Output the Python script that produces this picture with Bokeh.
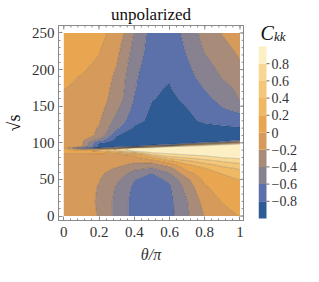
import numpy as np
from bokeh.plotting import figure
from bokeh.layouts import row
from bokeh.models import FixedTicker, Range1d
from bokeh.core.properties import value
from bokeh.embed import file_html
from bokeh.resources import INLINE

# ---- data ----
theta = [0.0, 0.1, 0.2, 0.3, 0.4, 0.5, 0.6, 0.7, 0.8, 0.9, 1.0]
sqrt_s = [0, 20, 40, 50, 58, 65, 70, 75, 80, 84, 87, 89, 91, 93, 95, 97, 99, 101, 104,
          110, 120, 130, 145, 160, 175, 190, 210, 225, 250]
ckk = [
    [-0.08, -0.13, -0.21, -0.46, -0.67, -0.74, -0.66, -0.43, -0.19, -0.06, 0.005],
    [-0.08, -0.13, -0.22, -0.46, -0.67, -0.74, -0.66, -0.41, -0.12, 0.01, 0.08],
    [-0.09, -0.13, -0.21, -0.42, -0.64, -0.71, -0.63, -0.32, -0.02, 0.08, 0.16],
    [-0.09, -0.13, -0.19, -0.36, -0.59, -0.67, -0.56, -0.24, 0.05, 0.13, 0.21],
    [-0.10, -0.13, -0.16, -0.30, -0.47, -0.61, -0.42, -0.08, 0.12, 0.21, 0.32],
    [-0.10, -0.12, -0.13, -0.22, -0.36, -0.42, -0.28, 0.08, 0.19, 0.33, 0.43],
    [-0.10, -0.12, -0.11, -0.14, -0.26, -0.30, -0.10, 0.18, 0.32, 0.47, 0.55],
    [-0.10, -0.11, -0.08, -0.09, -0.15, -0.10, 0.15, 0.36, 0.52, 0.62, 0.70],
    [-0.09, -0.09, -0.05, -0.05, -0.06, 0.21, 0.53, 0.63, 0.72, 0.81, 0.85],
    [-0.04, -0.05, -0.02, -0.02, 0.05, 0.61, 0.74, 0.82, 0.86, 0.88, 0.90],
    [0.06, 0.05, 0.05, 0.30, 0.55, 0.83, 0.90, 0.90, 0.91, 0.92, 0.93],
    [0.10, 0.12, 0.25, 0.60, 0.86, 0.92, 0.94, 0.93, 0.93, 0.94, 0.94],
    [0.06, -0.21, 0.10, 0.70, 0.90, 0.95, 0.96, 0.95, 0.95, 0.95, 0.95],
    [-0.02, -0.78, -0.82, -0.30, 0.85, 0.90, 0.94, 0.95, 0.96, 0.96, 0.96],
    [-0.07, -0.19, -0.87, -0.87, -0.78, 0.10, 0.75, 0.87, 0.93, 0.96, 0.96],
    [-0.09, -0.16, -0.86, -0.88, -0.91, -0.82, -0.70, 0.30, 0.70, 0.86, 0.93],
    [-0.10, -0.15, -0.82, -0.89, -0.92, -0.90, -0.88, -0.81, -0.30, 0.30, 0.70],
    [-0.11, -0.15, -0.72, -0.89, -0.92, -0.92, -0.91, -0.88, -0.84, -0.78, -0.22],
    [-0.11, -0.15, -0.47, -0.88, -0.92, -0.92, -0.92, -0.91, -0.89, -0.86, -0.84],
    [-0.12, -0.15, -0.22, -0.79, -0.90, -0.92, -0.92, -0.92, -0.91, -0.90, -0.88],
    [-0.11, -0.14, -0.21, -0.56, -0.84, -0.90, -0.91, -0.89, -0.86, -0.84, -0.82],
    [-0.10, -0.13, -0.18, -0.47, -0.72, -0.86, -0.89, -0.84, -0.77, -0.73, -0.70],
    [-0.09, -0.12, -0.13, -0.38, -0.66, -0.83, -0.88, -0.81, -0.71, -0.62, -0.56],
    [-0.07, -0.10, -0.12, -0.28, -0.61, -0.79, -0.84, -0.76, -0.65, -0.54, -0.39],
    [0.01, -0.04, -0.10, -0.26, -0.58, -0.78, -0.81, -0.71, -0.59, -0.46, -0.36],
    [0.02, -0.005, -0.07, -0.24, -0.56, -0.76, -0.79, -0.67, -0.52, -0.39, -0.28],
    [0.07, 0.04, -0.02, -0.19, -0.51, -0.72, -0.78, -0.62, -0.45, -0.32, -0.21],
    [0.10, 0.06, 0.01, -0.15, -0.47, -0.70, -0.76, -0.58, -0.39, -0.27, -0.17],
    [0.15, 0.11, 0.05, -0.06, -0.41, -0.68, -0.74, -0.52, -0.33, -0.19, -0.10],
]
levels = [-1.0, -0.8, -0.6, -0.4, -0.2, 0.0, 0.2, 0.4, 0.6, 0.8, 1.0]
palette = ["#2e5b94", "#5c70a9", "#878190", "#a88b79", "#d69b5b",
           "#e9a650", "#efb865", "#f3c679", "#f8d792", "#fcefc3"]
x_ticks = [0, 0.2, 0.4, 0.6, 0.8, 1]
x_labels = {0: "0", 0.2: "0.2", 0.4: "0.4", 0.6: "0.6", 0.8: "0.8", 1: "1"}
y_ticks = [0, 50, 100, 150, 200, 250]
cbar_ticks = [-0.8, -0.6, -0.4, -0.2, 0, 0.2, 0.4, 0.6, 0.8]
cbar_tick_labels = ["\u22120.8", "\u22120.6", "\u22120.4", "\u22120.2", "0",
                    "0.2", "0.4", "0.6", "0.8"]
cbar_title = "C"
cbar_title_sub = "kk"

FONT = "Liberation Serif"
TXT = "#333333"
FRAME = "#8a8a8a"

X0, X1 = -0.03, 1.02
Y0, Y1 = -6.1, 260.2
W, H = 248, 271
MB_L, MB_R, MB_T, MB_B = 52, 5, 25, 51
frame_w = W - MB_L - MB_R
frame_h = H - MB_T - MB_B
px_x = frame_w / (X1 - X0)   # pixels per data unit
px_y = frame_h / (Y1 - Y0)

z = np.array(ckk)

p = figure(width=W, height=H, x_range=Range1d(X0, X1), y_range=Range1d(Y0, Y1),
           output_backend="svg", toolbar_location=None,
           min_border_left=MB_L, min_border_right=MB_R, min_border_top=MB_T, min_border_bottom=MB_B,
           title="unpolarized")
p.contour(x=theta, y=sqrt_s, z=z, levels=levels, fill_color=palette,
          line_color="#000000", line_alpha=0.28, line_width=0.6)

p.grid.visible = False
p.outline_line_color = FRAME
p.outline_line_width = 1
p.background_fill_color = "white"
p.border_fill_color = "white"

p.title.text_font = FONT
p.title.text_font_size = "17px"
p.title.text_font_style = "normal"
p.title.text_color = "#111111"
p.title.align = "center"
p.title.standoff = 3

x_minor = [round(v, 2) for v in np.arange(0, 1.001, 0.04)]
y_minor = list(range(0, 251, 10))

for ax, ticks, minor in ((p.xaxis[0], x_ticks, x_minor), (p.yaxis[0], y_ticks, y_minor)):
    ax.ticker = FixedTicker(ticks=ticks, minor_ticks=minor)
    ax.major_tick_in = 4
    ax.major_tick_out = 0
    ax.minor_tick_in = 2
    ax.minor_tick_out = 0
    ax.major_tick_line_color = FRAME
    ax.minor_tick_line_color = FRAME
    ax.axis_line_color = FRAME
    ax.major_label_text_font = FONT
    ax.major_label_text_font_size = "15px"
    ax.major_label_text_color = TXT

p.xaxis[0].major_label_overrides = x_labels
p.xaxis[0].major_label_standoff = 6
p.yaxis[0].major_label_standoff = 4
p.xaxis[0].axis_label = "\u03b8/\u03c0"
p.xaxis[0].axis_label_text_font = FONT
p.xaxis[0].axis_label_text_font_size = "16px"
p.xaxis[0].axis_label_text_font_style = "italic"
p.xaxis[0].axis_label_text_color = TXT
p.xaxis[0].axis_label_standoff = 6
p.yaxis[0].axis_label = "\u221as"
p.yaxis[0].axis_label_text_font = FONT
p.yaxis[0].axis_label_text_font_size = "18px"
p.yaxis[0].axis_label_text_font_style = "normal"
p.yaxis[0].axis_label_text_color = "#111111"
p.yaxis[0].axis_label_standoff = 5

# inward ticks on the top and right frame edges
tx = list(x_ticks) + x_minor
tlen_x = [4 / px_y] * len(x_ticks) + [2 / px_y] * len(x_minor)
p.segment(x0=tx, x1=tx, y0=[Y1] * len(tx), y1=[Y1 - t for t in tlen_x],
          line_color=FRAME, line_width=1)
ty = list(y_ticks) + y_minor
tlen_y = [4 / px_x] * len(y_ticks) + [2 / px_x] * len(y_minor)
p.segment(x0=[X1] * len(ty), x1=[X1 - t for t in tlen_y], y0=ty, y1=ty,
          line_color=FRAME, line_width=1)

# ---- colour bar as a small figure (same vertical borders as the main plot) ----
CB_W = 58
cb_frame_w = CB_W - 10 - 2
bar_px = 172.0                      # bar length in pixels
ppu = bar_px / (levels[-1] - levels[0])
cb_bottom = levels[0] - 2 / ppu
cb_top = cb_bottom + frame_h / ppu
cb = figure(width=CB_W, height=H, x_range=Range1d(0, cb_frame_w), y_range=Range1d(cb_bottom, cb_top),
            output_backend="svg", toolbar_location=None,
            min_border_left=10, min_border_right=2, min_border_top=MB_T, min_border_bottom=MB_B)
cb.quad(left=0, right=8, bottom=levels[:-1], top=levels[1:], fill_color=palette, line_color=None)
cb.segment(x0=[8] * len(cbar_ticks), x1=[11] * len(cbar_ticks), y0=cbar_ticks, y1=cbar_ticks,
           line_color="#666666", line_width=1)
cb.text(x=[13] * len(cbar_ticks), y=cbar_ticks, text=cbar_tick_labels,
        text_font=value(FONT), text_font_size=value("14px"), text_color=TXT,
        text_baseline="middle", text_align="left")
cb.text(x=[2], y=[levels[-1] + 14 / ppu], text=[cbar_title], text_font=value(FONT),
        text_font_size=value("20px"), text_font_style="italic", text_color="#111111",
        text_baseline="alphabetic", text_align="left")
cb.text(x=[15.5], y=[levels[-1] + 10 / ppu], text=[cbar_title_sub], text_font=value(FONT),
        text_font_size=value("13px"), text_font_style="italic", text_color="#111111",
        text_baseline="alphabetic", text_align="left")
cb.grid.visible = False
cb.outline_line_color = None
cb.axis.visible = False
cb.background_fill_color = "white"
cb.border_fill_color = "white"

layout = row(p, cb)
open("out.html", "w").write(file_html(layout, INLINE))
